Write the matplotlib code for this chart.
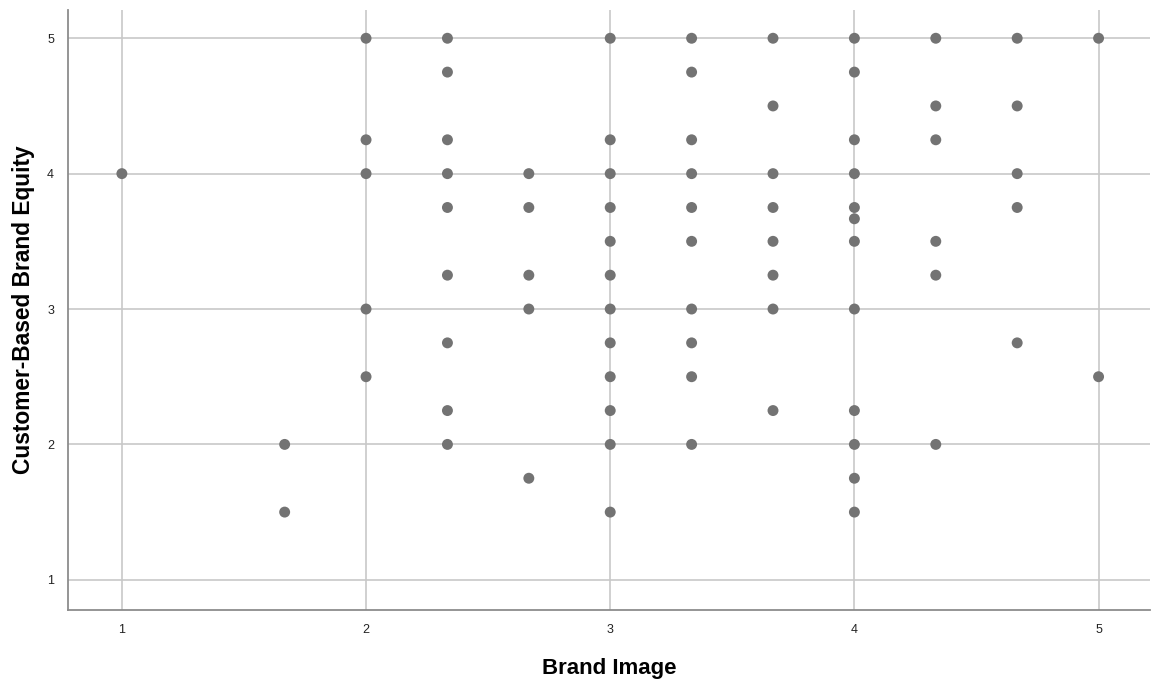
import matplotlib.pyplot as plt

# Brand Image score (x) and the Customer-Based Brand Equity scores observed at it
brand_image = [1.0, 5/3, 2.0, 7/3, 8/3, 3.0, 10/3, 11/3, 4.0, 13/3, 14/3, 5.0]
cbbe_by_image = [
    [4.0],
    [2.0, 1.5],
    [5.0, 4.25, 4.0, 3.0, 2.5],
    [5.0, 4.75, 4.25, 4.0, 3.75, 3.25, 2.75, 2.25, 2.0],
    [4.0, 3.75, 3.25, 3.0, 1.75],
    [5.0, 4.25, 4.0, 3.75, 3.5, 3.25, 3.0, 2.75, 2.5, 2.25, 2.0, 1.5],
    [5.0, 4.75, 4.25, 4.0, 3.75, 3.5, 3.0, 2.75, 2.5, 2.0],
    [5.0, 4.5, 4.0, 3.75, 3.5, 3.25, 3.0, 2.25],
    [5.0, 4.75, 4.25, 4.0, 3.75, 11/3, 3.5, 3.0, 2.25, 2.0, 1.75, 1.5],
    [5.0, 4.5, 4.25, 3.5, 3.25, 2.0],
    [5.0, 4.5, 4.0, 3.75, 2.75],
    [5.0, 2.5],
]

xs, ys = [], []
for x, vals in zip(brand_image, cbbe_by_image):
    for v in vals:
        xs.append(x)
        ys.append(v)

plt.rcParams['font.family'] = ['Liberation Sans', 'DejaVu Sans']

fig = plt.figure(figsize=(11.51, 6.82), dpi=100)
ax = fig.add_axes([0.059, 0.106, 0.94, 0.879])

ax.scatter(xs, ys, s=62, color='#737373', edgecolors='none', zorder=3)

ax.set_xlim(0.779, 5.21)
ax.set_ylim(0.779, 5.207)
ax.set_xticks([1, 2, 3, 4, 5])
ax.set_yticks([1, 2, 3, 4, 5])
ax.tick_params(length=0, labelsize=9, colors='#222222', pad=10)
ax.grid(True, color='#c8c8c8', linewidth=1.2, zorder=0)

for side in ('top', 'right'):
    ax.spines[side].set_visible(False)
for side in ('left', 'bottom'):
    ax.spines[side].set_color('#8c8c8c')
    ax.spines[side].set_linewidth(1.3)

ax.set_xlabel('Brand Image', fontsize=16, fontweight='bold', labelpad=16)
ax.set_ylabel('Customer-Based Brand Equity', fontsize=16.4, fontweight='bold', labelpad=9)

fig.savefig('out.png', dpi=100)
